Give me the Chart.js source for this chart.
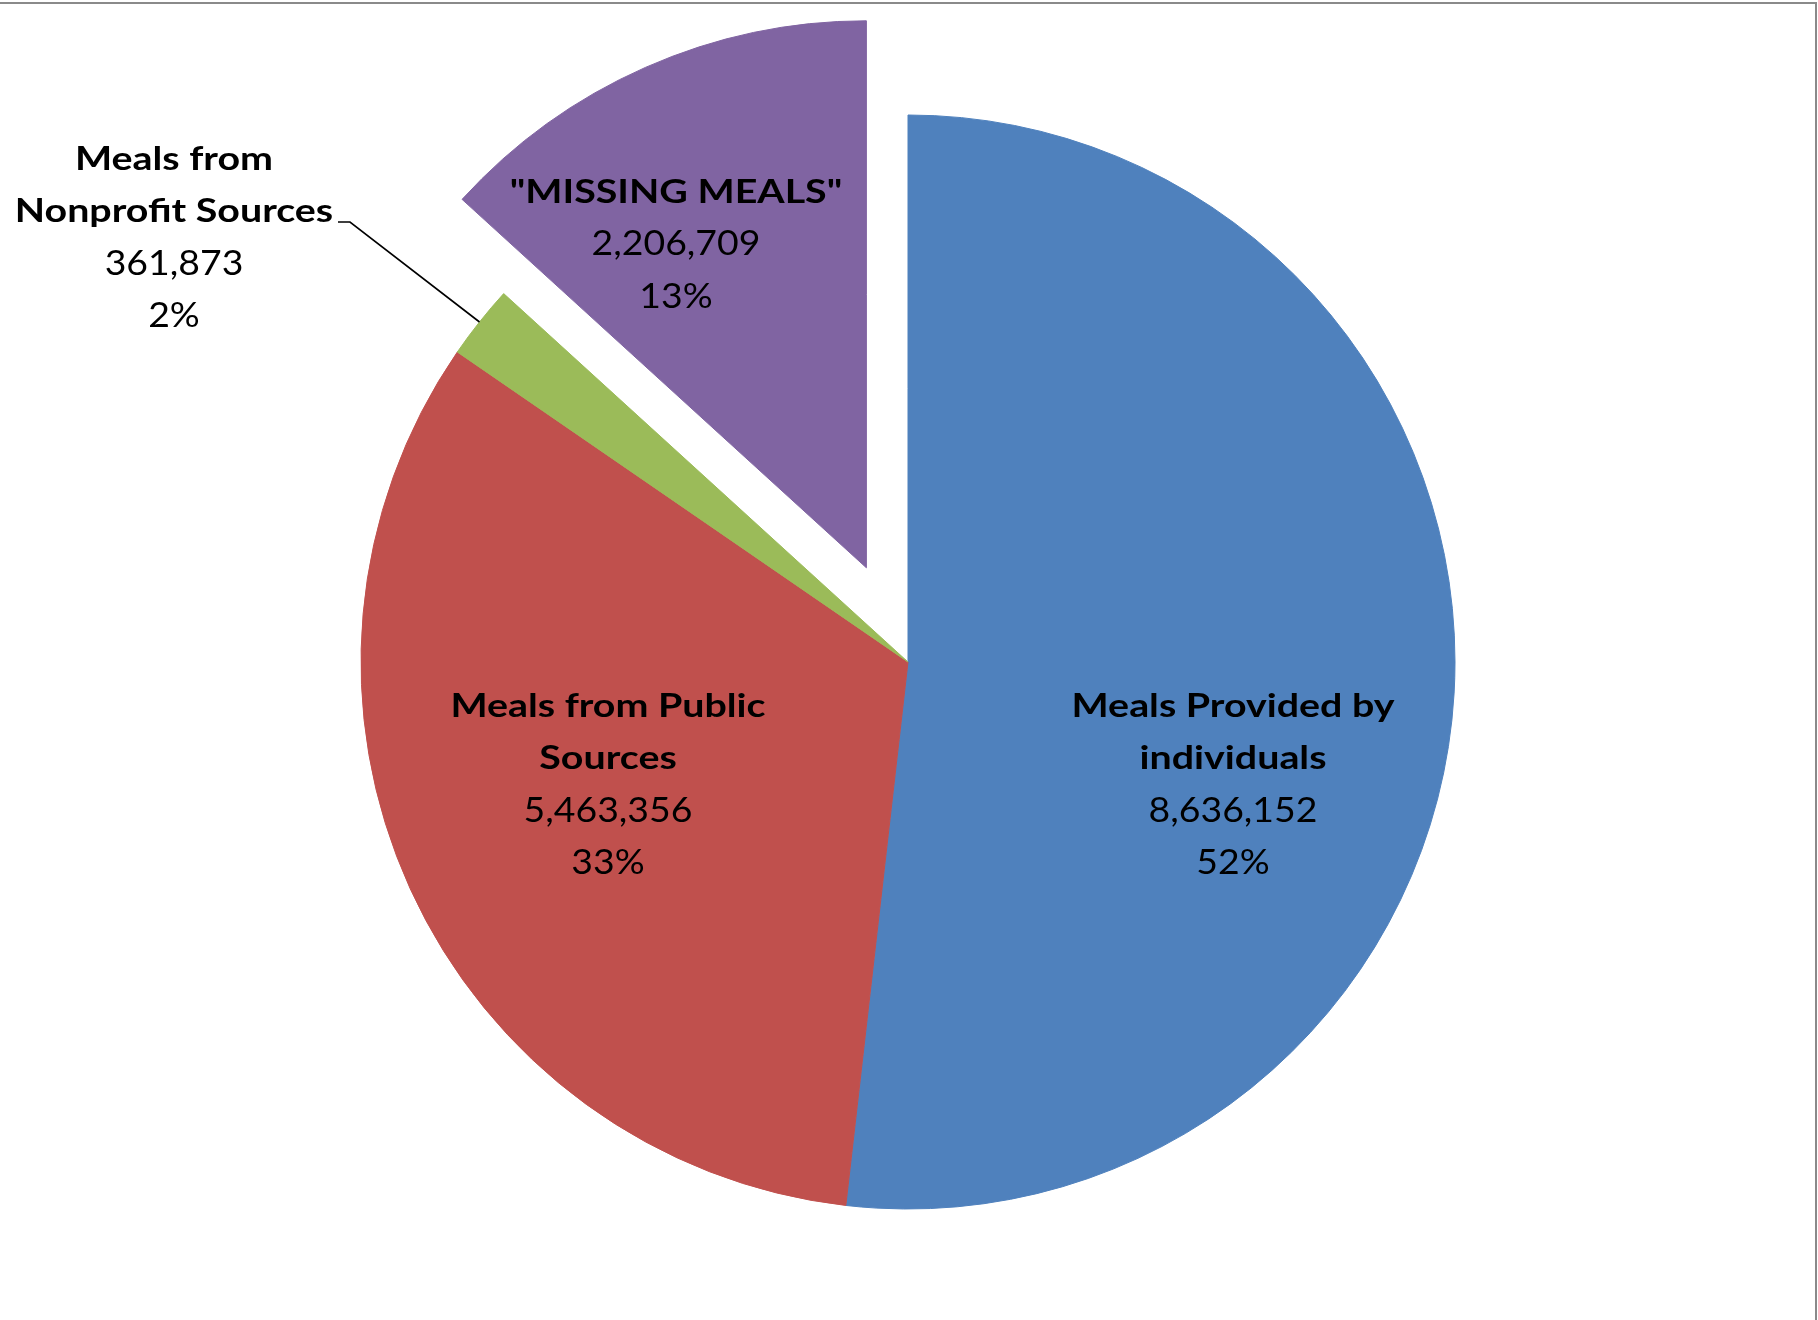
<!DOCTYPE html>
<html>
<head>
<meta charset="utf-8">
<script src="https://cdn.jsdelivr.net/npm/chart.js@4/dist/chart.umd.min.js"></script>
<style>
  body { margin: 0; background: #fff; }
  canvas { display: block; }
</style>
</head>
<body>
<canvas id="mealsChart" width="1818" height="1320"></canvas>
<script>
// Meals breakdown pie
const categories = ['Meals Provided by individuals', 'Meals from Public Sources', 'Meals from Nonprofit Sources', '"MISSING MEALS"'];
const labelLines = [['Meals Provided by', 'individuals'], ['Meals from Public', 'Sources'], ['Meals from', 'Nonprofit Sources'], ['"MISSING MEALS"']];
const mealValues = [8636152, 5463356, 361873, 2206709];
const sliceColors = ['#4F81BD', '#C0504D', '#9BBB59', '#8064A2'];
const explode = [0, 0, 0, 103];   // px the slice is pulled out

// label anchors relative to pie centre (centre x, first baseline)
const labelAnchors = [[325, 55], [-300, 55], [-734, -492], [-232, -459]];
const leaderElbow = [-558, -440];
const FONT = 'Lato, "Open Sans", sans-serif';
const LINE_H = 52.3;

const total = mealValues.reduce((a, b) => a + b, 0);

// pull slices out along their mid angle without Chart.js's offset distortion
const explodeSlices = {
    id: 'explodeSlices',
    afterDatasetsUpdate(chart) {
        chart.getDatasetMeta(0).data.forEach((arc, i) => {
            if (!explode[i]) return;
            const mid = (arc.startAngle + arc.endAngle) / 2;
            arc.x += Math.cos(mid) * explode[i];
            arc.y += Math.sin(mid) * explode[i];
        });
    }
};

function drawText(ctx, text, x, y, font, sx) {
    ctx.save();
    ctx.translate(x, y);
    ctx.scale(sx, 1);
    ctx.font = font;
    ctx.fillText(text, 0, 0);
    ctx.restore();
}

const dataLabels = {
    id: 'dataLabels',
    afterDatasetsDraw(chart) {
        const ctx = chart.ctx;
        const arcs = chart.getDatasetMeta(0).data;
        const ox = (chart.chartArea.left + chart.chartArea.right) / 2;
        const oy = (chart.chartArea.top + chart.chartArea.bottom) / 2;
        ctx.save();
        ctx.fillStyle = '#000';
        ctx.textAlign = 'center';
        ctx.textBaseline = 'alphabetic';
        arcs.forEach((arc, i) => {
            const cx = ox + labelAnchors[i][0];
            let y = oy + labelAnchors[i][1];
            labelLines[i].forEach(line => {
                drawText(ctx, line, cx, y, 'bold 32px ' + FONT, 1.23);
                y += LINE_H;
            });
            drawText(ctx, mealValues[i].toLocaleString('en-US'), cx, y, '34px ' + FONT, 1.1);
            y += LINE_H;
            drawText(ctx, Math.round(mealValues[i] / total * 100) + '%', cx, y, '34px ' + FONT, 1.1);
        });

        // leader line for the small nonprofit slice
        const g = arcs[2];
        const mid = (g.startAngle + g.endAngle) / 2;
        const ex = g.x + Math.cos(mid) * g.outerRadius;
        const ey = g.y + Math.sin(mid) * g.outerRadius;
        const kx = ox + leaderElbow[0];
        const ky = oy + leaderElbow[1];
        ctx.strokeStyle = '#000';
        ctx.lineWidth = 1.6;
        ctx.beginPath();
        ctx.moveTo(ex, ey);
        ctx.lineTo(kx, ky);
        ctx.lineTo(kx - 12, ky);
        ctx.stroke();

        // chart frame (top and right edges)
        ctx.strokeStyle = '#8a8a8a';
        ctx.lineWidth = 2;
        ctx.beginPath();
        ctx.moveTo(0, 3);
        ctx.lineTo(1816, 3);
        ctx.lineTo(1816, chart.height);
        ctx.stroke();
        ctx.restore();
    }
};

new Chart(document.getElementById('mealsChart'), {
    type: 'pie',
    data: {
        labels: categories,
        datasets: [{
            data: mealValues,
            backgroundColor: sliceColors,
            borderColor: sliceColors,
            borderWidth: 1
        }]
    },
    options: {
        responsive: false,
        animation: false,
        radius: 547,
        layout: { padding: { left: 0, right: 2, top: 4, bottom: 0 } },
        plugins: {
            legend: { display: false },
            tooltip: { enabled: false }
        }
    },
    plugins: [explodeSlices, dataLabels]
});
</script>
</body>
</html>
